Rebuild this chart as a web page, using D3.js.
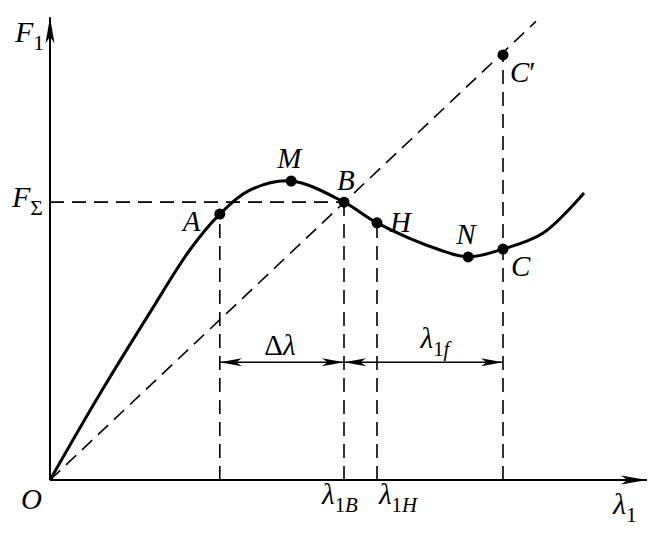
<!DOCTYPE html>
<html><head><meta charset="utf-8">
<script src="https://cdn.jsdelivr.net/npm/d3@7/dist/d3.min.js"></script>
<style>
html,body{margin:0;padding:0;background:#fff;}
</style></head>
<body><svg id="chart" width="660" height="539"></svg>
<script>
// ---- data (arbitrary units: λ1 on x, F1 on y) ----
const curveX = [0, 8.3, 16.7, 23.3, 28.3, 33.3, 40.2, 49.0, 54.5, 65, 69.7, 75.5, 82.2, 89];
const curveY = [0, 18.7, 36.5, 50.0, 57.8, 63.0, 65.0, 60.4, 55.9, 50, 48.5, 50.2, 53.7, 62.4];
const pointNames = ["A", "M", "B", "H", "N", "C", "C′"];
const pointX = [28.3, 40.2, 49.0, 54.5, 69.7, 75.5, 75.5];
const pointY = [57.8, 65.0, 60.4, 55.9, 48.5, 50.2, 92.4];
const diagonalEnd = [81, 99.7];
const fSigma = 60.4;
const dimLevel = 25.6;
const axisMax = [99.5, 100.6];

const FONT = "'Liberation Serif', 'Times New Roman', Times, 'DejaVu Serif', serif";
const svg = d3.select("#chart");
const x = d3.scaleLinear().domain([0, 100]).range([50, 650]);
const y = d3.scaleLinear().domain([0, 100]).range([480, 20]);
const P = {}; pointNames.forEach((n, i) => P[n] = [pointX[i], pointY[i]]);

const dash = "14,8";
const g = svg.append("g");
function seg(x1, y1, x2, y2, opts = {}) {
  return g.append("line").attr("x1", x(x1)).attr("y1", y(y1)).attr("x2", x(x2)).attr("y2", y(y2))
    .attr("stroke", "#000").attr("stroke-width", opts.w || 1.6)
    .attr("stroke-dasharray", opts.dash || null);
}
seg(0, 0, diagonalEnd[0], diagonalEnd[1], {dash});
seg(0, fSigma, P.B[0], fSigma, {dash});
["A", "B", "H", "C′"].forEach(n => seg(P[n][0], 0, P[n][0], P[n][1], {dash}));

function arrowHead(tx, ty, angle, len, half) {
  const notch = len * 0.25;
  const p = [[0, 0], [-len, -half], [-len + notch, 0], [-len, half]];
  const c = Math.cos(angle), s = Math.sin(angle);
  const pts = p.map(([a, b]) => [tx + a * c - b * s, ty + a * s + b * c]);
  g.append("path").attr("d", "M" + pts.map(q => q.join(",")).join("L") + "Z").attr("fill", "#000");
}
seg(0, 0, axisMax[0], 0, {w: 2});
seg(0, 0, 0, axisMax[1], {w: 2});
arrowHead(x(axisMax[0]), y(0), 0, 26, 4.5);
arrowHead(x(0), y(axisMax[1]), -Math.PI / 2, 26, 4.5);

const line = d3.line().x(d => x(d[0])).y(d => y(d[1])).curve(d3.curveCatmullRom.alpha(0.5));
g.append("path").datum(curveX.map((v, i) => [v, curveY[i]])).attr("d", line)
  .attr("fill", "none").attr("stroke", "#000").attr("stroke-width", 3);

seg(P.A[0], dimLevel, P["C′"][0], dimLevel, {w: 1.5});
arrowHead(x(P.A[0]), y(dimLevel), Math.PI, 22, 4);
arrowHead(x(P.B[0]), y(dimLevel), 0, 22, 4);
arrowHead(x(P.B[0]), y(dimLevel), Math.PI, 22, 4);
arrowHead(x(P["C′"][0]), y(dimLevel), 0, 22, 4);

g.selectAll("circle.pt").data(pointNames).join("circle").attr("class", "pt")
  .attr("cx", n => x(P[n][0])).attr("cy", n => y(P[n][1])).attr("r", 5.5).attr("fill", "#000");

function txt(px, py, size, anchor) {
  return svg.append("text").attr("x", px).attr("y", py).attr("font-size", size)
    .attr("font-family", FONT).attr("font-style", "italic").attr("fill", "#000")
    .attr("text-anchor", anchor || "start");
}
const labelOffset = {A: [-37, 17], M: [-14, -13], B: [-7, -12], H: [13, 9], N: [-12, -13], C: [8, 27], "C′": [7, 27]};
pointNames.forEach(n => {
  const t = txt(x(P[n][0]) + labelOffset[n][0], y(P[n][1]) + labelOffset[n][1], 29);
  if (n === "C′") { t.append("tspan").text("C"); t.append("tspan").attr("font-style", "normal").text("′"); }
  else t.text(n);
});

function label(px, py, main, sub, anchor, size) {
  const t = txt(px, py, size, anchor);
  t.append("tspan").text(main);
  if (sub) sub.forEach((s, i) => {
    const ts = t.append("tspan").attr("font-size", size * 0.72).text(s.t).attr("font-style", s.i ? "italic" : "normal");
    if (i === 0) ts.attr("dy", size * 0.26);
  });
  return t;
}
label(15, 42, "F", [{t: "1"}], "start", 30);
label(12, 207, "F", [{t: "Σ"}], "start", 30);
label(21, 509, "O", null, "start", 29);
label(x(P.B[0]) - 4, 504, "λ", [{t: "1"}, {t: "B", i: true}], "middle", 29);
label(x(P.H[0]) + 21, 504, "λ", [{t: "1"}, {t: "H", i: true}], "middle", 29);
label(613, 514, "λ", [{t: "1"}], "start", 30);
const dl = txt((x(P.A[0]) + x(P.B[0])) / 2 - 2, 355, 29, "middle");
dl.append("tspan").attr("font-style", "normal").text("Δ"); dl.append("tspan").text("λ");
label((x(P.H[0]) + x(P["C′"][0])) / 2 - 5, 348, "λ", [{t: "1"}, {t: "f", i: true}], "middle", 29);
</script></body></html>
